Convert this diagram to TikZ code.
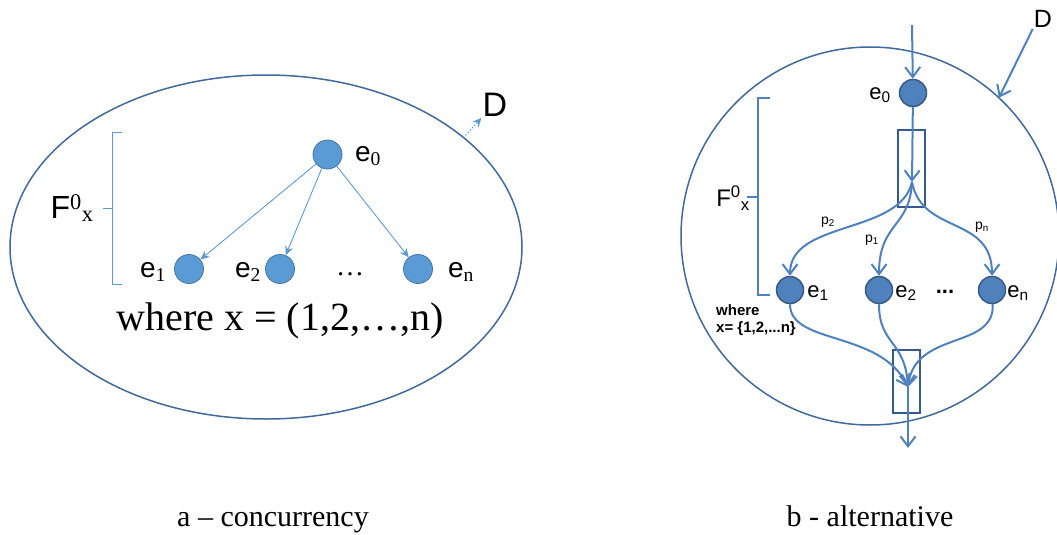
\documentclass[tikz,border=0pt]{standalone}
\usepackage{fontspec}
\setmainfont{Liberation Serif}
\setsansfont{Liberation Sans}
\usetikzlibrary{arrows.meta,calc}
\definecolor{lightnode}{RGB}{91,155,213}
\definecolor{darknode}{RGB}{79,129,189}
\definecolor{rimblue}{RGB}{65,105,155}
\definecolor{gateblue}{RGB}{55,90,140}

\begin{document}
\begin{tikzpicture}[x=1pt, y=-1pt,
  lnode/.style={circle, fill=lightnode, draw=lightnode!75!black, thick,
    minimum size=29pt, inner sep=0pt},
  rnode/.style={circle, fill=darknode, draw=darknode!70!black, line width=1.5pt,
    minimum size=27pt, inner sep=0pt},
  llabel/.style={font=\sffamily\fontsize{28}{30}\selectfont, inner sep=0pt},
  rlabel/.style={font=\sffamily\fontsize{22}{24}\selectfont, inner sep=0pt},
  plabel/.style={font=\sffamily\fontsize{14}{16}\selectfont, inner sep=0pt},
  larrow/.style={lightnode, line width=0.9pt, -{Stealth[length=9pt,width=8pt]}},
  rarrow/.style={darknode, line width=2pt, -{Straight Barb[length=10pt,width=15pt]}},
  gate/.style={draw=gateblue, line width=1.6pt, minimum width=27pt, inner sep=0pt},
  caption/.style={font=\rmfamily\fontsize{30}{32}\selectfont, anchor=base}]

\useasboundingbox (0,0) rectangle (1057,535);

% a - concurrency
\draw[rimblue, line width=1.5pt] (266,247) ellipse [x radius=256, y radius=172];
\node[lnode] (e0a) at (327.5,154.5) {};
\node[lnode] (e1a) at (189,269) {};
\node[lnode] (e2a) at (280,269) {};
\node[lnode] (ena) at (418,269) {};
\node[llabel] (l0a) at (368,156) {e\textsubscript{\rmfamily 0}};
\node[llabel] (l1a) at (153,272) {e\textsubscript{\rmfamily 1}};
\node[llabel] (l2a) at (248,272) {e\textsubscript{\rmfamily 2}};
\node[llabel] (lna) at (461,272) {e\textsubscript{\rmfamily n}};
\node[font=\rmfamily\fontsize{28}{30}\selectfont] (dotsa) at (350,274) {\dots};
\draw[larrow] (e0a) -- (e1a);
\draw[larrow] (e0a) -- (e2a);
\draw[larrow] (e0a) -- (ena);
\node[font=\rmfamily\fontsize{40}{42}\selectfont] (wherea) at (280,321) {where x = (1,2,\dots,n)};
\draw[lightnode, line width=1pt] (122,132) -- (112,132) -- (112,284) -- (122,284)
  (112,208) -- (103,208);
\node[font=\sffamily\fontsize{32}{34}\selectfont, inner sep=0pt] (fa) at (72,208)
  {F\textsuperscript{\rmfamily 0}\textsubscript{\rmfamily x}};
\node[font=\sffamily\fontsize{34}{36}\selectfont, inner sep=1pt] (da) at (495,105) {D};
\coordinate (rima) at ($(266,247)+(-39.5:256 and 172)$);
\draw[lightnode, line width=1.2pt, dotted, -{Stealth[length=9pt,width=8pt]}] (rima) -- (da.south west);
\node[caption] (capa) at (273,526) {a -- concurrency};

% b - alternative
\draw[rimblue, line width=1.5pt] (870,236) circle [radius=189];
\coordinate (topb) at (912,25);
\node[rnode] (e0b) at (913,93) {};
\node[gate, minimum height=77pt] (g1) at (911.5,168.5) {};
\coordinate (split) at (912,182);
\node[rnode] (e1b) at (790,290) {};
\node[rnode] (e2b) at (879,290) {};
\node[rnode] (enb) at (992,290) {};
\node[gate, minimum height=63pt] (g2) at (906.5,381.5) {};
\coordinate (merge) at (908,387);
\coordinate (outb) at (908,448);
\node[rlabel] (l0b) at (880,95) {e\textsubscript{0}};
\node[rlabel] (l1b) at (818,293) {e\textsubscript{1}};
\node[rlabel] (l2b) at (906,293) {e\textsubscript{2}};
\node[rlabel] (lnb) at (1018,293) {e\textsubscript{n}};
\node[font=\sffamily\bfseries\fontsize{22}{24}\selectfont] (dotsb) at (945,292) {...};
\draw[rarrow] (topb) -- (e0b);
\draw[rarrow] (e0b) -- (split);
\draw[rarrow] (split) .. controls (900,235) and (790,220) .. (e1b);
\draw[rarrow] (split) .. controls (910,228) and (879,222) .. (e2b);
\draw[rarrow] (split) .. controls (922,235) and (992,215) .. (enb);
\draw[rarrow] (e1b) .. controls (790,345) and (880,330) .. (merge);
\draw[rarrow] (e2b) .. controls (879,345) and (905,340) .. (merge);
\draw[rarrow] (enb) .. controls (995,350) and (915,330) .. (merge);
\draw[rarrow] (merge) -- (outb);
\node[plabel] (p1b) at (828,222) {p\textsubscript{2}};
\node[plabel] (p2b) at (872,240) {p\textsubscript{1}};
\node[plabel] (pnb) at (982,227) {p\textsubscript{n}};
\draw[darknode, line width=1.5pt] (770,98) -- (758,98) -- (758,295) -- (770,295)
  (758,197) -- (747,197);
\node[font=\sffamily\fontsize{24}{26}\selectfont, inner sep=0pt] (fb) at (733,198)
  {F\textsuperscript{0}\textsubscript{x}};
\node[font=\sffamily\bfseries\fontsize{15}{17}\selectfont, align=left, anchor=north west,
  inner sep=0pt] (whereb) at (716,304) {where\\x= \{1,2,...n\}};
\node[font=\sffamily\fontsize{25}{27}\selectfont, inner sep=1pt] (db) at (1043,19) {D};
\coordinate (rimb) at ($(870,236)+(-47:189)$);
\draw[rarrow] (db.south west) -- (rimb);
\node[caption] (capb) at (870,526) {b - alternative};
\end{tikzpicture}
\end{document}
